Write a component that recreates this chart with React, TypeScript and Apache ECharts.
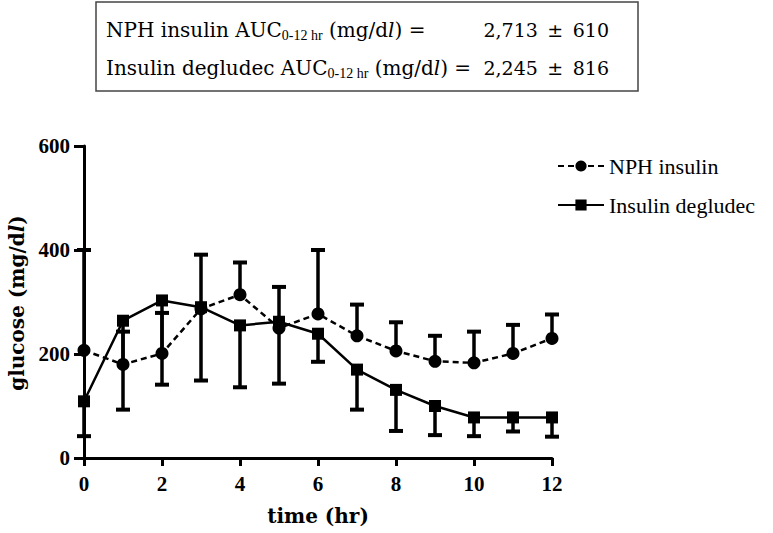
import React, { useEffect, useRef } from "react";
import * as echarts from "echarts";

const hours = [0, 1, 2, 3, 4, 5, 6, 7, 8, 9, 10, 11, 12];
const nphMean = [207, 180, 201, 287, 314, 250, 277, 235, 206, 186, 183, 201, 230];
const nphSD = [193, 63, 78, 104, 62, 79, 123, 60, 55, 49, 60, 55, 46];
const degMean = [109, 264, 303, 290, 255, 262, 239, 170, 131, 100, 78, 78, 78];
const degSD = [67, 171, 162, 141, 119, 119, 54, 77, 79, 56, 36, 27, 37];
const seriesNames = ["NPH insulin", "Insulin degludec"];
const aucNames = ["NPH insulin AUC", "Insulin degludec AUC"];
const aucMeans = ["2,713", "2,245"];
const aucSDs = ["610", "816"];

const SERIF = "'Liberation Serif', 'Times New Roman', serif";
const WIDE = "'DejaVu Serif', serif";

export default function App() {
  const ref = useRef<HTMLDivElement>(null);
  useEffect(() => {
    if (!ref.current) return;
    const chart = echarts.init(ref.current, null, { renderer: "svg" });

    const nphLine = hours.map((h, i) => [h, nphMean[i]]);
    const degLine = hours.map((h, i) => [h, degMean[i]]);
    const nphErr = hours.map((h, i) => [h, nphMean[i], nphMean[i] + nphSD[i]]);
    const degErr = hours.map((h, i) => [h, degMean[i], degMean[i] - degSD[i]]);

    const renderErr = (params: any, api: any) => {
      const x = api.value(0);
      const m = api.value(1);
      const e = api.value(2);
      const p0 = api.coord([x, m]);
      const p1 = api.coord([x, e]);
      const hw = 7;
      return {
        type: "group",
        children: [
          { type: "line", shape: { x1: p0[0], y1: p0[1], x2: p1[0], y2: p1[1] }, style: { stroke: "#000", lineWidth: 3.5 } },
          { type: "line", shape: { x1: p1[0] - hw, y1: p1[1], x2: p1[0] + hw, y2: p1[1] }, style: { stroke: "#000", lineWidth: 4 } },
        ],
      };
    };

    const BOXF = 20;
    const txt = { fontFamily: WIDE, fontSize: 19, fill: "#000" };
    const rich = {
      n: { fontFamily: WIDE, fontSize: BOXF, color: "#000", lineHeight: 24, verticalAlign: "middle" },
      i: { fontFamily: WIDE, fontSize: BOXF, color: "#000", fontStyle: "italic", lineHeight: 24, verticalAlign: "middle" },
      s: { fontFamily: SERIF, fontSize: 14, color: "#000", lineHeight: 16, verticalAlign: "bottom" },
    };
    const lineYs = [30, 68];
    const graphics: any[] = [
      { type: "rect", shape: { x: 96, y: 2, width: 542, height: 89 }, style: { fill: "#fff", stroke: "#444", lineWidth: 1.5 } },
      {
        type: "text",
        x: 17,
        y: 303,
        rotation: Math.PI / 2,
        style: {
          text: "{b|glucose (mg/d}{bi|l}{b|)}",
          textAlign: "center",
          textVerticalAlign: "middle",
          rich: {
            b: { fontFamily: WIDE, fontWeight: "bold", fontSize: 20, color: "#000" },
            bi: { fontFamily: WIDE, fontWeight: "bold", fontStyle: "italic", fontSize: 20, color: "#000" },
          },
        },
      },
    ];
    aucNames.forEach((nm, k) => {
      graphics.push({
        type: "text",
        x: 106,
        y: lineYs[k],
        style: { text: `{n|${nm}}{s|0-12 hr}{n| (mg/d}{i|l}{n|) =}`, rich, textVerticalAlign: "middle", textAlign: "left" },
      });
      graphics.push({ type: "text", x: 609, y: lineYs[k], style: { ...txt, text: aucMeans[k] + "\u2002±\u2002" + aucSDs[k], textAlign: "right", textVerticalAlign: "middle" } });
    });

    chart.setOption({
      animation: false,
      backgroundColor: "#fff",
      grid: { left: 84, top: 146, width: 468, height: 312, containLabel: false },
      legend: {
        data: seriesNames,
        orient: "vertical",
        left: 552,
        top: 150,
        itemWidth: 46,
        itemHeight: 14,
        itemGap: 17,
        textStyle: { fontFamily: SERIF, fontSize: 22, color: "#000" },
      },
      xAxis: {
        type: "value",
        min: 0,
        max: 12,
        interval: 2,
        name: "time (hr)",
        nameLocation: "middle",
        nameGap: 48,
        nameTextStyle: { fontFamily: WIDE, fontWeight: "bold", fontSize: 20, color: "#000" },
        axisLine: { show: true, lineStyle: { color: "#000", width: 3 } },
        axisTick: { show: true, length: 8, lineStyle: { color: "#000", width: 3 } },
        axisLabel: { margin: 15, fontFamily: SERIF, fontWeight: "bold", fontSize: 21, color: "#000" },
        splitLine: { show: false },
      },
      yAxis: {
        type: "value",
        min: 0,
        max: 600,
        interval: 200,
        axisLine: { show: true, lineStyle: { color: "#000", width: 3 } },
        axisTick: { show: true, length: 10, lineStyle: { color: "#000", width: 3 } },
        axisLabel: { margin: 14, fontFamily: SERIF, fontWeight: "bold", fontSize: 21, color: "#000" },
        splitLine: { show: false },
      },
      graphic: graphics,
      series: [
        {
          name: "nphErr",
          type: "custom",
          renderItem: renderErr,
          data: nphErr,
          encode: { x: 0, y: [1, 2] },
          clip: false,
          z: 2,
        },
        {
          name: "degErr",
          type: "custom",
          renderItem: renderErr,
          data: degErr,
          encode: { x: 0, y: [1, 2] },
          clip: false,
          z: 2,
        },
        {
          name: seriesNames[0],
          type: "line",
          data: nphLine,
          symbol: "circle",
          symbolSize: 13,
          itemStyle: { color: "#000" },
          lineStyle: { color: "#000", width: 2.5, type: [6, 4] },
          z: 3,
        },
        {
          name: seriesNames[1],
          type: "line",
          data: degLine,
          symbol: "rect",
          symbolSize: 12,
          itemStyle: { color: "#000" },
          lineStyle: { color: "#000", width: 2.5, type: "solid" },
          z: 3,
        },
      ],
    });
    return () => chart.dispose();
  }, []);
  return <div ref={ref} style={{ position: "fixed", left: 0, top: 0, width: 773, height: 533 }} />;
}
